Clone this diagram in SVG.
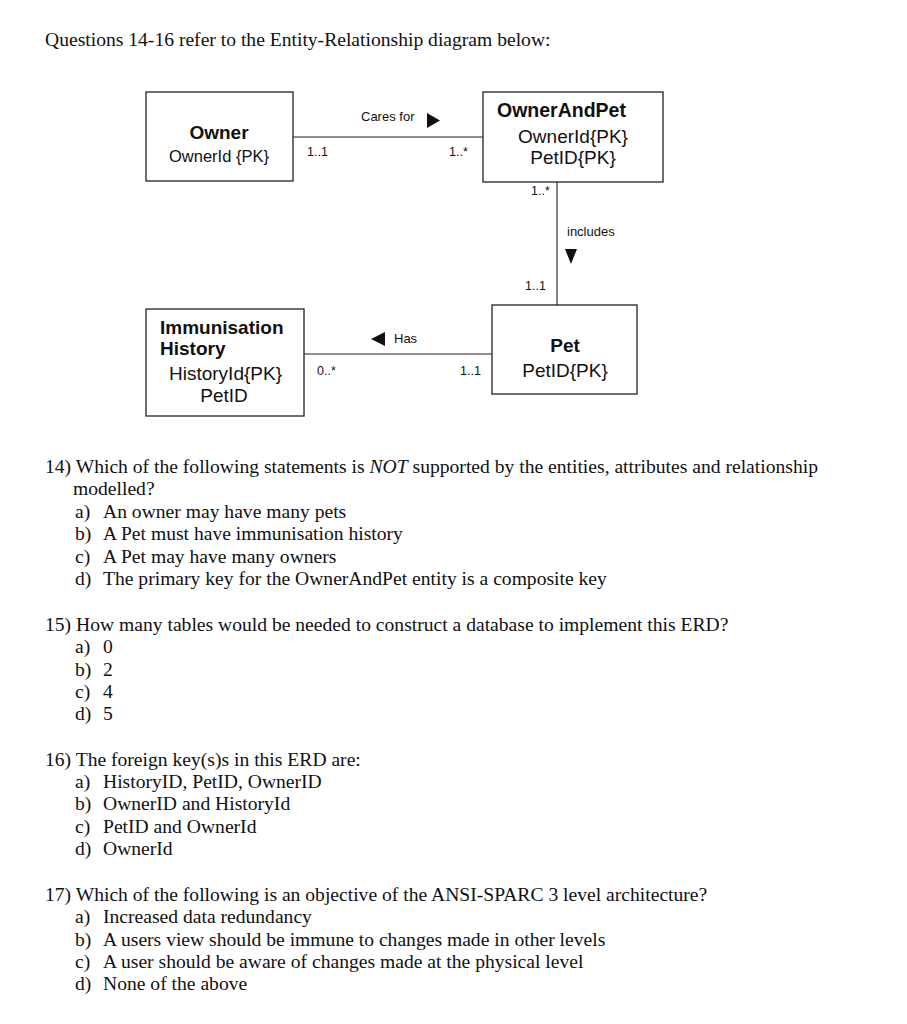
<svg xmlns="http://www.w3.org/2000/svg" width="907" height="1024" viewBox="0 0 907 1024">
<style>
.box{fill:#fff;stroke:#222;stroke-width:1.3}
.ln{stroke:#222;stroke-width:1.1;fill:none}
.nm{font-family:"Liberation Sans",Arial,sans-serif;font-weight:bold;font-size:19px;fill:#111}
.at{font-family:"Liberation Sans",Arial,sans-serif;font-size:19px;fill:#111}
.cd{font-family:"Liberation Sans",Arial,sans-serif;font-size:12.5px;fill:#111}
.rl{font-family:"Liberation Sans",Arial,sans-serif;font-size:13px;fill:#111}
.q{font-family:"Liberation Serif","Times New Roman",serif;font-size:19.6px;fill:#111}
.mid{text-anchor:middle}
.tri{fill:#111}
</style>
<rect width="907" height="1024" fill="#fff"/>
<text class="q" x="45" y="46">Questions 14-16 refer to the Entity-Relationship diagram below:</text>

<g id="connectors">
<line class="ln" x1="292" y1="137" x2="483" y2="137"/>
<line class="ln" x1="557" y1="182" x2="557" y2="305"/>
<line class="ln" x1="304" y1="354" x2="492" y2="354"/>
<text class="rl" x="361" y="121">Cares for</text>
<polygon class="tri" points="427,113 427,128 440,120.5"/>
<text class="cd" x="307" y="156">1..1</text>
<text class="cd" x="449" y="156">1..*</text>
<text class="cd" x="531" y="195">1..*</text>
<text class="rl" x="567" y="236">includes</text>
<polygon class="tri" points="565,249 577,249 571,264"/>
<text class="cd" x="525" y="290">1..1</text>
<text class="rl" x="394" y="343">Has</text>
<polygon class="tri" points="385,332 385,346 371,339"/>
<text class="cd" x="317" y="375">0..*</text>
<text class="cd" x="460" y="375">1..1</text>
</g>

<g id="owner">
<rect class="box" x="146" y="92" width="147" height="89"/>
<text class="nm mid" x="219" y="139">Owner</text>
<text class="at mid" x="219" y="162" style="font-size:16.5px">OwnerId {PK}</text>
</g>

<g id="ownerandpet">
<rect class="box" x="483" y="92" width="180" height="90"/>
<text class="nm" x="497" y="117" style="font-size:19.5px">OwnerAndPet</text>
<text class="at mid" x="573" y="143">OwnerId{PK}</text>
<text class="at mid" x="573" y="164">PetID{PK}</text>
</g>

<g id="pet">
<rect class="box" x="492" y="305" width="145" height="89"/>
<text class="nm mid" x="565" y="352">Pet</text>
<text class="at mid" x="565" y="377">PetID{PK}</text>
</g>

<g id="immunisation">
<rect class="box" x="146" y="309" width="158" height="107"/>
<text class="nm" x="160" y="334">Immunisation</text>
<text class="nm" x="160" y="355">History</text>
<text class="at mid" x="225.5" y="380">HistoryId{PK}</text>
<text class="at mid" x="224" y="402">PetID</text>
</g>

<g id="questions">
<text class="q" x="45" y="473">14) Which of the following statements is <tspan font-style="italic">NOT</tspan> supported by the entities, attributes and relationship</text>
<text class="q" x="73" y="495">modelled?</text>
<text class="q" x="75" y="518">a)</text><text class="q" x="103" y="518">An owner may have many pets</text>
<text class="q" x="75" y="540">b)</text><text class="q" x="103" y="540">A Pet must have immunisation history</text>
<text class="q" x="75" y="563">c)</text><text class="q" x="103" y="563">A Pet may have many owners</text>
<text class="q" x="75" y="585">d)</text><text class="q" x="103" y="585">The primary key for the OwnerAndPet entity is a composite key</text>

<text class="q" x="45" y="631">15) How many tables would be needed to construct a database to implement this ERD?</text>
<text class="q" x="75" y="653">a)</text><text class="q" x="103" y="653">0</text>
<text class="q" x="75" y="676">b)</text><text class="q" x="103" y="676">2</text>
<text class="q" x="75" y="698">c)</text><text class="q" x="103" y="698">4</text>
<text class="q" x="75" y="720">d)</text><text class="q" x="103" y="720">5</text>

<text class="q" x="45" y="766">16) The foreign key(s)s in this ERD are:</text>
<text class="q" x="75" y="788">a)</text><text class="q" x="103" y="788">HistoryID, PetID, OwnerID</text>
<text class="q" x="75" y="810">b)</text><text class="q" x="103" y="810">OwnerID and HistoryId</text>
<text class="q" x="75" y="833">c)</text><text class="q" x="103" y="833">PetID and OwnerId</text>
<text class="q" x="75" y="855">d)</text><text class="q" x="103" y="855">OwnerId</text>

<text class="q" x="45" y="901">17) Which of the following is an objective of the ANSI-SPARC 3 level architecture?</text>
<text class="q" x="75" y="923">a)</text><text class="q" x="103" y="923">Increased data redundancy</text>
<text class="q" x="75" y="946">b)</text><text class="q" x="103" y="946">A users view should be immune to changes made in other levels</text>
<text class="q" x="75" y="968">c)</text><text class="q" x="103" y="968">A user should be aware of changes made at the physical level</text>
<text class="q" x="75" y="990">d)</text><text class="q" x="103" y="990">None of the above</text>
</g>
</svg>
